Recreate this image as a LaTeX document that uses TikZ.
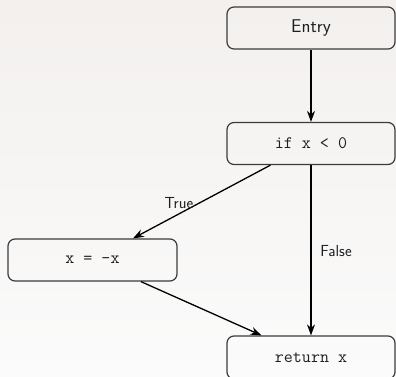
\documentclass[tikz,border=0pt]{standalone}
\usepackage{fontspec}
\usetikzlibrary{arrows.meta}
\definecolor{bgtop}{RGB}{243,240,238}
\definecolor{bgbot}{RGB}{251,251,251}
\definecolor{boxline}{RGB}{60,60,60}
\definecolor{ink}{RGB}{30,30,30}
\tikzset{
  block/.style={draw=boxline, line width=1.2pt, rounded corners=7pt,
    minimum width=168pt, minimum height=42pt, inner sep=0pt, text=ink,
    font=\fontsize{18}{21}\selectfont},
  codeblock/.style={block, font=\ttfamily\fontsize{17.5}{21}\selectfont},
  flow/.style={draw=black, line width=1.3pt, -{Stealth[length=11pt,width=8pt]}},
  edgelabel/.style={text=ink, font=\sffamily\fontsize{16}{19}\selectfont}
}
\begin{document}
\begin{tikzpicture}[x=1pt,y=1pt]
  \useasboundingbox (0,0) rectangle (396,377);
  \clip (0,0) rectangle (396,377);
  \shade[top color=bgtop, bottom color=bgbot] (0,0) rectangle (396,377);

  \node[block, font=\sffamily\fontsize{18.5}{21}\selectfont] (entry) at (311,349) {Entry};
  \node[codeblock] (cond) at (311,233.5) {if x < 0};
  \node[codeblock, minimum width=169pt] (neg) at (92.5,117) {x = -x};
  \node[codeblock, minimum height=43pt] (ret) at (311,19.5) {return x};

  \draw[flow] (entry.south) -- (cond.north);
  \draw[flow] (cond) -- (neg);
  \draw[flow] (neg) -- (ret);
  \draw[flow] (cond.south) -- (ret.north);

  \node[edgelabel] (ltrue) at (179,174) {True};
  \node[edgelabel] (lfalse) at (336,126) {False};
\end{tikzpicture}
\end{document}
